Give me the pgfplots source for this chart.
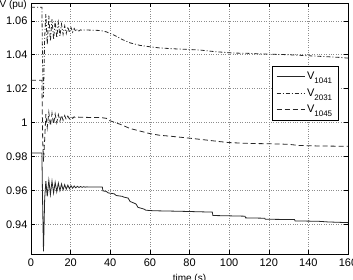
\documentclass[border=0pt]{standalone}
\usepackage{pgfplots}
\pgfplotsset{compat=1.18}
\usepackage{fontspec}
\setmainfont{Liberation Sans}
\usetikzlibrary{calc}
\definecolor{ln}{gray}{0.15}
\begin{document}
\begin{tikzpicture}
\begin{axis}[
  scale only axis, width=317pt, height=251pt,
  xmin=0, xmax=160, ymin=0.9225, ymax=1.0705,
  xtick={0,20,...,160},
  xticklabels={0,20,40,60,80,100,120,140,160},
  ytick={0.94,0.96,0.98,1,1.02,1.04,1.06},
  yticklabels={0.94,0.96,0.98,1,1.02,1.04,1.06},
  tick align=inside, tick pos=both, major tick length=4pt,
  tick style={black, line width=0.5pt},
  grid=major, major grid style={black!45, dotted, line width=0.5pt},
  axis line style={black, line width=0.6pt},
  tick label style={font=\fontsize{11}{13}\selectfont},
  xticklabel style={yshift=-1pt},
  label style={font=\fontsize{11}{13}\selectfont},
  xlabel={time (s)},
  every axis x label/.style={at={(rel axis cs:0.5,0)}, anchor=north, yshift=-20pt, inner sep=0pt},
  ylabel={V (pu)},
  every axis y label/.style={at={(rel axis cs:0,1)}, anchor=east, xshift=-4pt, yshift=-2pt, inner sep=0pt},
  legend style={at={(rel axis cs:0.97,0.75)}, anchor=north east, draw=black, line width=0.6pt,
    font=\fontsize{11}{13}\selectfont, row sep=3.5pt, inner xsep=4pt, inner ysep=4pt},
  legend cell align=left,
  legend image code/.code={\draw[#1, line width=0.8pt] (0pt,0pt) -- (28pt,0pt);},
  every axis plot/.append style={line width=0.8pt, color=ln},
]
\addplot[solid] coordinates {
(0,0.982)(5.5,0.982)(5.9,0.950)(6.3,0.924)(6.9,0.955)(7.5,0.9655)(8.2,0.9565)(9.0,0.9660)(9.8,0.9575)(10.6,0.9655)(11.4,0.9585)(12.2,0.9648)(13.0,0.9592)(13.8,0.9643)(14.6,0.9598)(15.4,0.9638)(16.2,0.9603)(17.0,0.9634)(17.8,0.9607)(18.6,0.9631)(19.4,0.9610)(20.2,0.9628)(21.0,0.9613)(21.8,0.9626)(22.6,0.9615)(23.4,0.9624)(24.2,0.9617)(25.0,0.9623)(25.8,0.9618)(26.6,0.9622)(27.4,0.9619)(28.2,0.9621)(29,0.962)(36,0.962)(36.3,0.9597)(38,0.9594)(39,0.9585)(42,0.958)(43,0.957)(46,0.9565)(47,0.956)(49,0.9555)(50,0.9535)(53,0.952)(54,0.950)(57,0.949)(58,0.9483)(62,0.948)(75,0.9477)(91.5,0.9472)(91.8,0.9452)(100,0.945)(108,0.9448)(108.3,0.9438)(118,0.9436)(118.2,0.943)(133,0.9428)(133.3,0.942)(145,0.9418)(150,0.9414)(155,0.9412)(160,0.941)
};
\addlegendentry{V\raisebox{-4pt}{\fontsize{8}{9}\selectfont 1041}}
\addplot[dash pattern=on 4pt off 2pt on 1pt off 2pt] coordinates {
(0,1.068)(5.5,1.068)(5.9,1.03)(6.3,1.015)(6.9,1.05)(7.5,1.064)(8.2,1.046)(9.0,1.063)(9.8,1.048)(10.6,1.061)(11.4,1.049)(12.2,1.060)(13.0,1.050)(13.8,1.059)(14.6,1.051)(15.4,1.058)(16.2,1.052)(17.0,1.057)(17.8,1.0525)(18.6,1.0565)(19.4,1.053)(20.2,1.056)(21.0,1.0533)(21.8,1.0555)(22.6,1.0537)(23.4,1.055)(24.2,1.054)(25,1.0547)(26,1.0543)(27,1.0546)(30,1.0545)(35,1.0543)(38,1.0535)(42,1.0515)(46,1.049)(50,1.047)(55,1.0455)(60,1.0447)(65,1.044)(72,1.0435)(85,1.0428)(93,1.0418)(102,1.041)(110,1.0408)(118,1.0404)(130,1.04)(140,1.0394)(150,1.0388)(156,1.0384)(160,1.038)
};
\addlegendentry{V\raisebox{-4pt}{\fontsize{8}{9}\selectfont 2031}}
\addplot[dash pattern=on 5pt off 3pt] coordinates {
(0,1.025)(5.5,1.025)(5.9,0.99)(6.3,0.977)(6.9,0.99)(7.5,1.005)(8.2,0.997)(9.0,1.006)(9.8,0.998)(10.6,1.0055)(11.4,0.999)(12.2,1.005)(13,1.0)(13.8,1.0047)(14.6,1.0008)(15.4,1.0044)(16.2,1.0013)(17,1.0041)(17.8,1.0018)(18.6,1.0038)(19.4,1.0022)(20.2,1.0036)(21,1.0025)(21.8,1.0034)(22.6,1.0028)(24,1.0032)(30,1.003)(35,1.003)(38,1.0025)(40,1.001)(45,0.999)(50,0.9965)(55,0.995)(60,0.9935)(65,0.9925)(70,0.992)(80,0.9908)(90,0.9895)(95,0.9888)(100,0.9882)(110,0.9877)(120,0.9875)(130,0.9872)(135,0.9865)(145,0.9862)(160,0.986)
};
\addlegendentry{V\raisebox{-4pt}{\fontsize{8}{9}\selectfont 1045}}
\end{axis}
\pgfresetboundingbox
\path ($(current axis.south west)+(-31pt,-25pt)$) rectangle ($(current axis.north east)+(5pt,3pt)$);
\end{tikzpicture}
\end{document}
